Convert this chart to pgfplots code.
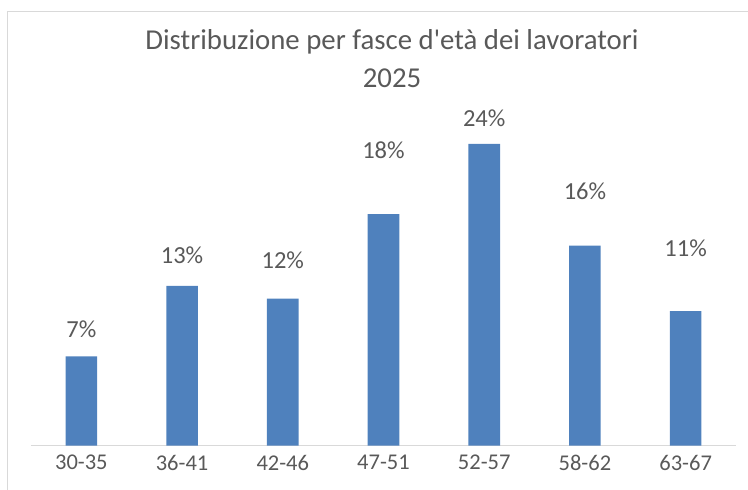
\documentclass[border=0pt]{standalone}
\usepackage{pgfplots}
\usepackage{pgfplotstable}
\pgfplotsset{compat=1.18}
\usepackage{fontspec}
\setmainfont{Carlito}
\definecolor{barblue}{HTML}{4F81BD}
\definecolor{txt}{HTML}{595959}
\definecolor{grid}{HTML}{D9D9D9}
\pgfplotstableread{
x y lab sh
0 7.1 7 15
1 12.7 13 19
2 11.7 12 26
3 18.4 18 52
4 24.0 24 14
5 15.9 16 42
6 10.7 11 51
}\datatable
\begin{document}
\begin{tikzpicture}[x=1pt,y=1pt]
\path[use as bounding box] (0,0) rectangle (748,490);
\draw[grid, line width=1pt] (7.5,0) -- (7.5,478) -- (748,478);
\node[txt, font=\fontsize{28.8}{32}\selectfont] at (392,448) {Distribuzione per fasce d\textquotesingle età dei lavoratori};
\node[txt, font=\fontsize{28.8}{32}\selectfont] at (392,412) {2025};
\begin{axis}[
  at={(31pt,44.3pt)}, anchor=south west,
  scale only axis, width=705pt, height=377.4pt,
  xmin=-0.5, xmax=6.5, ymin=0, ymax=30,
  axis x line=bottom, axis y line=none,
  x axis line style={grid, line width=1pt, -},
  xtick=data, xticklabels={30-35,36-41,42-46,47-51,52-57,58-62,63-67},
  major tick length=0pt,
  xticklabel style={txt, font=\fontsize{22.5}{26}\selectfont, yshift=-6pt},
  ytick=\empty,
  clip=false,
]
\addplot[ybar, bar width=31.6pt, fill=barblue, draw=none,
  point meta=explicit symbolic,
  visualization depends on={\thisrow{sh} \as \labshift},
  nodes near coords={\pgfplotspointmeta\%},
  nodes near coords style={txt, font=\fontsize{24.5}{28}\selectfont, yshift=\labshift pt},
] table[x=x, y=y, meta=lab] {\datatable};
\end{axis}
\end{tikzpicture}
\end{document}
